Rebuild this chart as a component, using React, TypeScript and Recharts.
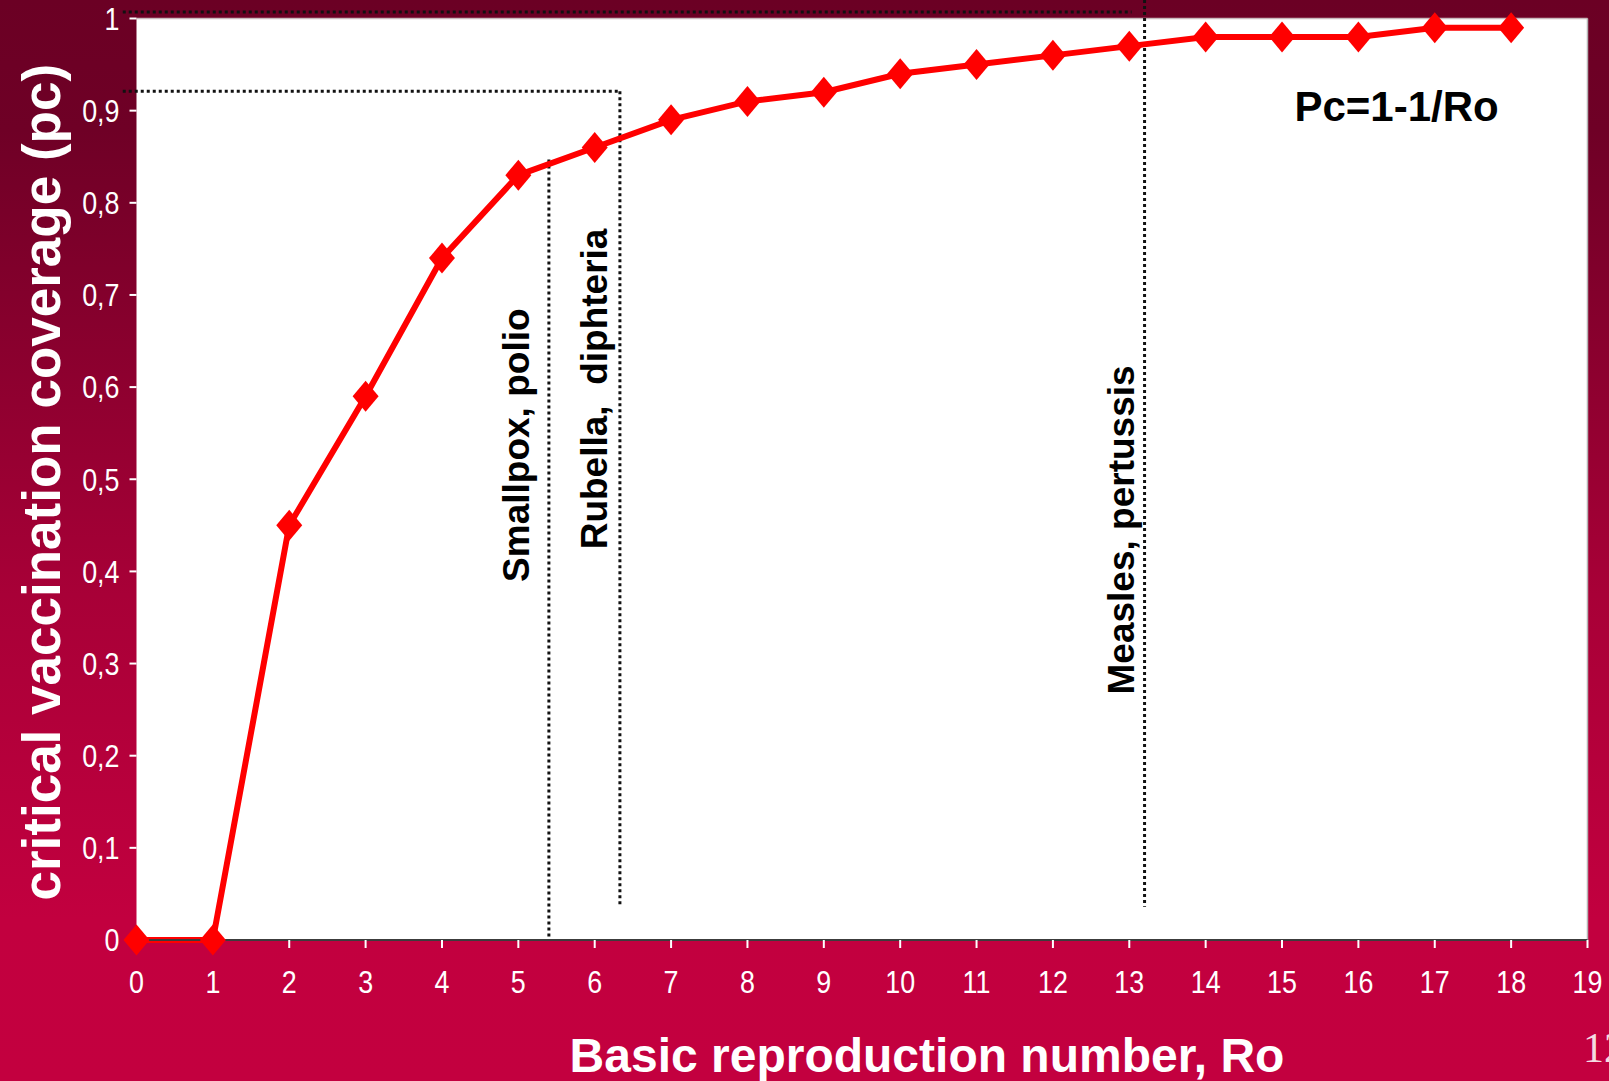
import React from "react";
import {
  LineChart,
  Line,
  XAxis,
  YAxis,
  CartesianGrid,
  ReferenceLine,
  ReferenceDot,
  Label,
} from "recharts";

// Critical vaccination coverage against the basic reproduction number
const r0Values = [0, 1, 2, 3, 4, 5, 6, 7, 8, 9, 10, 11, 12, 13, 14, 15, 16, 17, 18];
const coverage = [0, 0, 0.45, 0.59, 0.74, 0.83, 0.86, 0.89, 0.91, 0.92, 0.94, 0.95, 0.96, 0.97, 0.98, 0.98, 0.98, 0.99, 0.99];

const xTicks = [0, 1, 2, 3, 4, 5, 6, 7, 8, 9, 10, 11, 12, 13, 14, 15, 16, 17, 18, 19];
const yTicks = [0, 0.1, 0.2, 0.3, 0.4, 0.5, 0.6, 0.7, 0.8, 0.9, 1];

// dotted guide lines, as [x1, y1, x2, y2] in data units
const guideLines = [
  [-0.18, 1.007, 13.03, 1.007],
  [13.2, 1.02, 13.2, 0.036],
  [-0.18, 0.921, 6.33, 0.921],
  [6.33, 0.921, 6.33, 0.036],
  [5.4, 0.847, 5.4, 0],
];

// disease group labels, written vertically
const noteText = ["Smallpox, polio", "Rubella,  diphteria", "Measles, pertussis"];
const noteX = [4.97, 6.0, 12.9];
const noteY = [0.537, 0.598, 0.445];

const formulaText = "Pc=1-1/Ro";
const formulaX = 16.5;
const formulaY = 0.905;

const data = r0Values.map((r0, i) => ({ r0, pc: coverage[i] }));

const SANS = "'Liberation Sans', Arial, sans-serif";

const fmtY = (v: number) => (v === 0 ? "0" : v === 1 ? "1" : v.toFixed(1).replace(".", ","));

// condensed tick text (squeezed horizontally, like Arial Narrow)
const XTick = (props: any) => {
  const { x, y, payload } = props;
  return (
    <text
      transform={`translate(${x},${y}) scale(0.84,1)`}
      textAnchor="middle"
      dy="0.71em"
      fontFamily={SANS}
      fontSize={32}
      fill="#ffffff"
    >
      {payload.value}
    </text>
  );
};

const YTick = (props: any) => {
  const { x, y, payload } = props;
  return (
    <text
      transform={`translate(${x},${y}) scale(0.84,1)`}
      textAnchor="end"
      dy="0.355em"
      fontFamily={SANS}
      fontSize={32}
      fill="#ffffff"
    >
      {fmtY(payload.value)}
    </text>
  );
};

const Diamond = (props: any) => {
  const { cx, cy, index } = props;
  if (cx == null || cy == null) return null;
  return (
    <polygon
      key={`d-${index}`}
      points={`${cx},${cy - 15.5} ${cx + 13},${cy} ${cx},${cy + 15.5} ${cx - 13},${cy}`}
      fill="#ff0000"
    />
  );
};

const verticalNote = (text: string) => (p: any) => (
  <text
    x={p.cx}
    y={p.cy}
    transform={`rotate(-90 ${p.cx} ${p.cy})`}
    textAnchor="middle"
    dominantBaseline="central"
    fontFamily={SANS}
    fontWeight="bold"
    fontSize={37}
    fill="#000"
    style={{ whiteSpace: "pre" }}
  >
    {text}
  </text>
);

export default function App() {
  return (
    <div
      style={{
        position: "fixed",
        left: 0,
        top: 0,
        width: 1609,
        height: 1081,
        overflow: "hidden",
        background: "linear-gradient(to bottom, #6b0024 0%, #6f0026 12%, #a80037 55%, #c2003f 85%, #c3003f 100%)",
      }}
    >
      <LineChart
        width={1609}
        height={1081}
        data={data}
        margin={{ top: 18.5, right: 21.5, left: 16.5, bottom: 61 }}
      >
        <CartesianGrid fill="#ffffff" fillOpacity={1} stroke="none" horizontal={false} vertical={false} />
        <XAxis
          dataKey="r0"
          type="number"
          domain={[0, 19]}
          ticks={xTicks}
          interval={0}
          height={80}
          axisLine={{ stroke: "#3c3c3c", strokeWidth: 2 }}
          tickLine={{ stroke: "#ffffff", strokeWidth: 2 }}
          tickSize={8}
          tickMargin={22}
          tick={XTick}
        >
          <Label
            content={(p: any) => {
              const vb = p.viewBox;
              return (
                <text
                  x={vb.x + vb.width / 2 + 65}
                  y={vb.y + 132}
                  textAnchor="middle"
                  fontFamily={SANS}
                  fontWeight="bold"
                  fontSize={48}
                  fill="#ffffff"
                >
                  Basic reproduction number, Ro
                </text>
              );
            }}
          />
        </XAxis>
        <YAxis
          type="number"
          domain={[0, 1]}
          ticks={yTicks}
          interval={0}
          width={120}
          axisLine={false}
          tickLine={{ stroke: "#ffffff", strokeWidth: 2 }}
          tickSize={7}
          tickMargin={10}
          tick={YTick}
        >
          <Label
            content={(p: any) => {
              const vb = p.viewBox;
              const cx = vb.x + 24.5;
              const cy = vb.y + vb.height / 2 + 3;
              return (
                <text
                  x={cx}
                  y={cy}
                  transform={`rotate(-90 ${cx} ${cy})`}
                  textAnchor="middle"
                  dominantBaseline="central"
                  fontFamily={SANS}
                  fontWeight="bold"
                  fontSize={53}
                  fill="#ffffff"
                >
                  critical vaccination coverage (pc)
                </text>
              );
            }}
          />
        </YAxis>

        <ReferenceLine y={1} stroke="#c9b9bd" strokeWidth={1.5} />
        <ReferenceLine x={19} stroke="#b5b5b5" strokeWidth={1.5} />

        {guideLines.map(([x1, y1, x2, y2], i) => (
          <ReferenceLine
            key={`g-${i}`}
            segment={[
              { x: x1, y: y1 },
              { x: x2, y: y2 },
            ]}
            stroke="#111111"
            strokeWidth={3}
            strokeDasharray="3 3"
            ifOverflow="visible"
          />
        ))}

        {noteText.map((t, i) => (
          <ReferenceDot
            key={`n-${i}`}
            x={noteX[i]}
            y={noteY[i]}
            r={0}
            ifOverflow="visible"
            shape={verticalNote(t)}
          />
        ))}

        <ReferenceDot
          x={formulaX}
          y={formulaY}
          r={0}
          ifOverflow="visible"
          shape={(p: any) => (
            <text
              x={p.cx}
              y={p.cy}
              textAnchor="middle"
              dominantBaseline="central"
              fontFamily={SANS}
              fontWeight="bold"
              fontSize={42}
              fill="#000"
            >
              {formulaText}
            </text>
          )}
        />

        <Line
          type="linear"
          dataKey="pc"
          stroke="#ff0000"
          strokeWidth={6}
          dot={Diamond}
          activeDot={false}
          isAnimationActive={false}
        />
      </LineChart>
      <div
        style={{
          position: "absolute",
          left: 1583,
          top: 1027,
          fontFamily: "'Liberation Serif', 'Times New Roman', serif",
          fontSize: 42,
          lineHeight: "42px",
          color: "#f4dbe2",
          whiteSpace: "nowrap",
        }}
      >
        12
      </div>
    </div>
  );
}
